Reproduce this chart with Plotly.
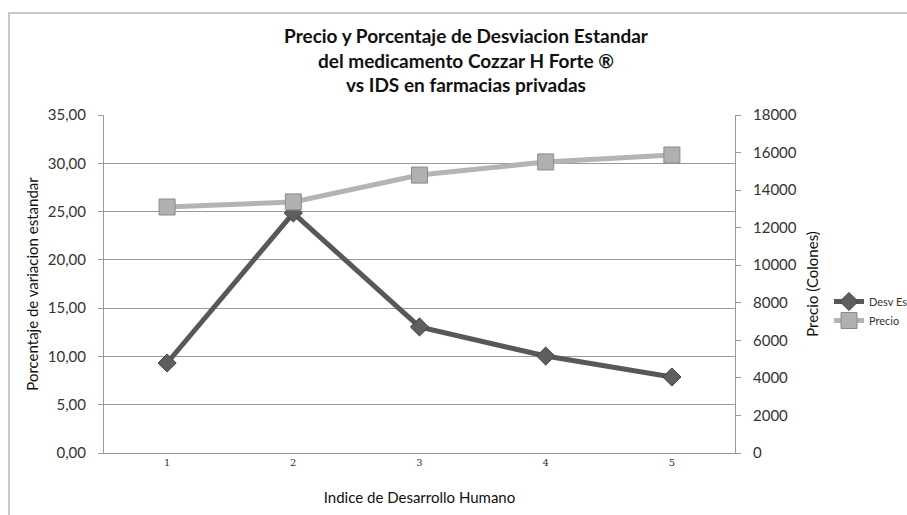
import plotly.graph_objects as go

categories = ["1", "2", "3", "4", "5"]
desv_est = [9.32, 24.85, 13.05, 10.04, 7.87]
precio = [13100, 13370, 14800, 15500, 15870]
left_ticks = [0, 5, 10, 15, 20, 25, 30, 35]
left_tick_text = ["0,00", "5,00", "10,00", "15,00", "20,00", "25,00", "30,00", "35,00"]
right_ticks = [0, 2000, 4000, 6000, 8000, 10000, 12000, 14000, 16000, 18000]
right_tick_text = [str(v) for v in right_ticks]

W, H = 907, 515
L, R, T, B = 104, 735, 115, 453

fig = go.Figure()
fig.add_trace(go.Scatter(
    x=categories, y=desv_est, name="Desv Est", mode="lines+markers",
    line=dict(color="#585858", width=5),
    marker=dict(symbol="diamond", size=14, color="#5e5e5e", line=dict(color="#444", width=1)),
    yaxis="y"))
fig.add_trace(go.Scatter(
    x=categories, y=precio, name="Precio", mode="lines+markers",
    line=dict(color="#b4b4b4", width=5),
    marker=dict(symbol="square", size=16, color="#b0b0b0", line=dict(color="#8a8a8a", width=1)),
    yaxis="y2"))

font_fam = "Lato, sans-serif"
fig.update_layout(
    width=W, height=H,
    margin=dict(l=L, r=W - R, t=T, b=H - B, pad=0, autoexpand=False),
    paper_bgcolor="white", plot_bgcolor="white",
    font=dict(family=font_fam, color="#333"),
    title=dict(text="<b>Precio y Porcentaje de Desviacion Estandar<br>del medicamento Cozzar H Forte ®<br>vs IDS en farmacias privadas</b>",
               x=(466 - L) / (R - L), xref="paper", y=1 - 43 / H, yanchor="middle", yref="container",
               font=dict(size=19, family=font_fam, color="#111")),
    xaxis=dict(type="category", range=[-0.5, 4.5], showgrid=False, showline=True, automargin=False,
               linecolor="#9a9a9a", linewidth=1, ticks="", tickfont=dict(size=10, family="DejaVu Serif", color="#333"),
               title=dict(text="Indice de Desarrollo Humano", font=dict(size=15, family=font_fam, color="#111"), standoff=25)),
    yaxis=dict(range=[0, 35], tickvals=left_ticks, ticktext=left_tick_text, showgrid=True, automargin=False,
               gridcolor="#9a9a9a", gridwidth=1, showline=True, linecolor="#9a9a9a",
               ticks="outside", ticklen=5, tickcolor="#9a9a9a", ticklabelstandoff=9,
               tickfont=dict(size=15, family=font_fam, color="#333"), zeroline=False,
               title=dict(text="Porcentaje de variacion estandar", font=dict(size=15, family=font_fam, color="#111"), standoff=5)),
    yaxis2=dict(range=[0, 18000], tickvals=right_ticks, ticktext=right_tick_text, overlaying="y", side="right", showgrid=False,
                showline=True, linecolor="#9a9a9a", ticks="outside", ticklen=5, tickcolor="#9a9a9a", automargin=False,
                ticklabelstandoff=9,
                tickfont=dict(size=15, family=font_fam, color="#333"), zeroline=False,
                title=dict(text="Precio (Colones)", font=dict(size=15, family=font_fam, color="#111"), standoff=11)),
    legend=dict(x=(829 - L) / (R - L), y=(B - 287) / (B - T), xanchor="left", yanchor="top",
                font=dict(size=11, family=font_fam, color="#333"), bgcolor="rgba(0,0,0,0)",
                itemwidth=30, tracegroupgap=2),
    showlegend=True,
)

fig.add_shape(type="rect", xref="paper", yref="paper",
              x0=(9 - L) / (R - L), x1=(920 - L) / (R - L),
              y0=(B - 530) / (B - T), y1=(B - 13) / (B - T),
              line=dict(color="#c8c8c8", width=2), fillcolor="rgba(0,0,0,0)", layer="below")

fig.write_html("out.html", config={"displayModeBar": False},
               post_script="document.body.style.margin='0px';")
